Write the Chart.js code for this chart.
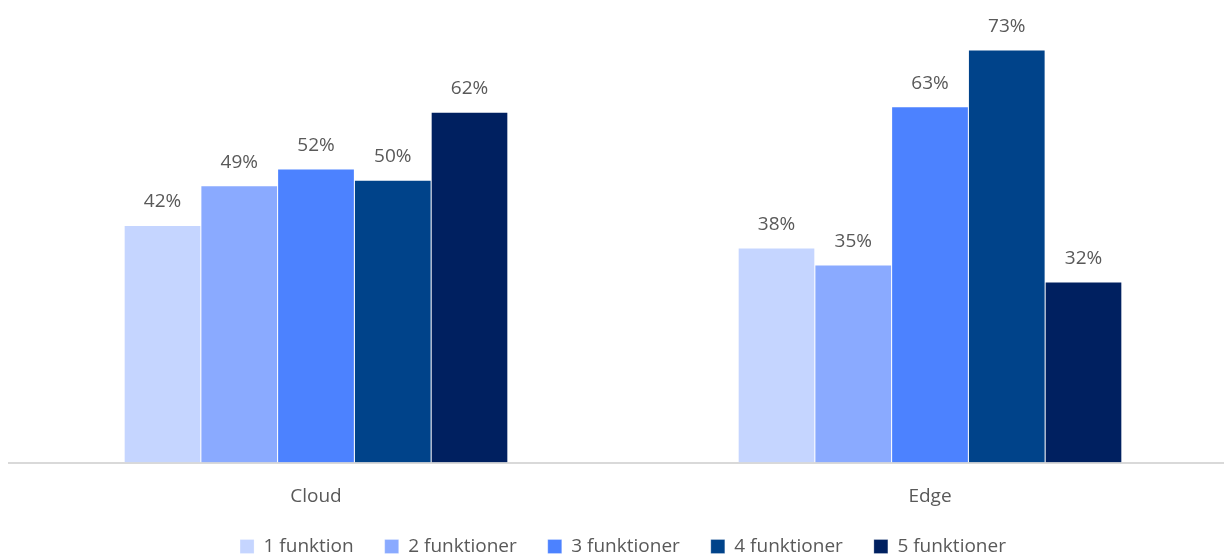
<!DOCTYPE html>
<html>
<head>
<meta charset="utf-8">
<script src="https://cdn.jsdelivr.net/npm/chart.js@4/dist/chart.umd.min.js"></script>
<style>
  html, body { margin: 0; padding: 0; background: #ffffff; overflow: hidden; }
  #wrap { position: relative; width: 1240px; height: 566px; }
</style>
</head>
<body>
<div id="wrap"><canvas id="chart"></canvas></div>
<script>
const categories = ['Cloud', 'Edge'];
const seriesNames = ['1 funktion', '2 funktioner', '3 funktioner', '4 funktioner', '5 funktioner'];
const series1 = [42, 38];
const series2 = [49, 35];
const series3 = [52, 63];
const series4 = [50, 73];
const series5 = [62, 32];
const seriesColors = ['#C5D5FF', '#8AAAFF', '#4C82FF', '#00438A', '#002060'];

const allSeries = [series1, series2, series3, series4, series5];
const FONT = "'Open Sans', 'Noto Sans', sans-serif";
const TEXT = '#595959';

// Writes each bar's percentage just above its top edge
const valueLabels = {
  id: 'valueLabels',
  afterDatasetsDraw(chart) {
    const ctx = chart.ctx;
    ctx.save();
    ctx.font = '19px ' + FONT;
    ctx.fillStyle = TEXT;
    ctx.textAlign = 'center';
    ctx.textBaseline = 'alphabetic';
    chart.data.datasets.forEach((ds, i) => {
      const meta = chart.getDatasetMeta(i);
      meta.data.forEach((bar, j) => {
        ctx.fillText(ds.data[j] + '%', bar.x, bar.y - 17.5);
      });
    });
    ctx.restore();
  }
};

new Chart(document.getElementById('chart'), {
  type: 'bar',
  data: {
    labels: categories,
    datasets: allSeries.map((vals, i) => ({
      label: seriesNames[i],
      data: vals,
      backgroundColor: seriesColors[i],
      borderColor: 'rgba(255,255,255,0.5)',
      borderWidth: { top: 1, left: 0.5, right: 0.5, bottom: 0 },
      categoryPercentage: 0.625,
      barPercentage: 1.0
    }))
  },
  options: {
    responsive: true,
    maintainAspectRatio: false,
    animation: false,
    layout: { padding: { left: 9, right: 3, top: 10, bottom: 0 } },
    scales: {
      x: {
        grid: { display: false, drawTicks: false },
        border: { display: true, color: '#D9D9D9', width: 2 },
        ticks: { color: TEXT, font: { family: FONT, size: 19, lineHeight: 0.8 }, padding: 26 },
        // keep the axis band compact so the legend sits close beneath the labels
        afterFit(scale) { scale.height = 43.5; }
      },
      y: {
        display: false,
        min: 0,
        max: 80
      }
    },
    plugins: {
      legend: {
        position: 'bottom',
        labels: {
          color: TEXT,
          font: { family: FONT, size: 19 },
          boxWidth: 14,
          boxHeight: 14,
          padding: 31
        }
      },
      tooltip: { enabled: false }
    }
  },
  plugins: [valueLabels]
});
</script>
</body>
</html>
